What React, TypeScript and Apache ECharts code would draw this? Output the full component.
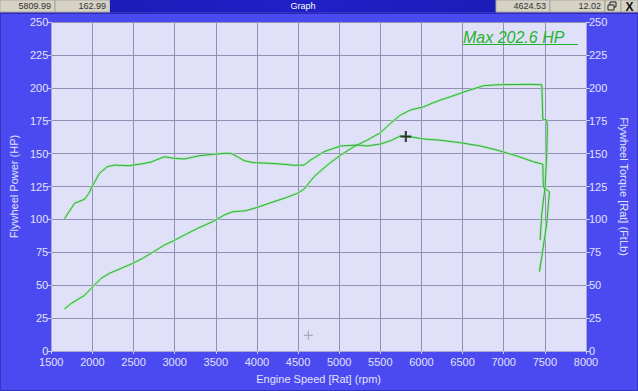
import React, { useEffect, useRef } from "react";
import * as echarts from "echarts";

// Engine speed (rpm) / Flywheel power (HP)
const powerRpm = [1661, 1743, 1904, 2006, 2106, 2207, 2349, 2491, 2612, 2733, 2874, 2995, 3117, 3279, 3480, 3602, 3704, 3865, 4007, 4168, 4329, 4492, 4572, 4693, 4856, 5017, 5178, 5341, 5502, 5623, 5744, 5866, 6027, 6148, 6230, 6351, 6553, 6755, 6957, 7160, 7321, 7463, 7475, 7523, 7531, 7523, 7503, 7463, 7442];
const powerHp = [31.9, 36.2, 42.3, 48.9, 55.2, 59.0, 62.8, 66.6, 70.4, 75.0, 80.5, 84.0, 88.1, 93.2, 98.8, 103.3, 105.8, 106.6, 109.2, 112.7, 116.0, 119.8, 122.9, 132.4, 141.3, 148.9, 155.2, 160.3, 165.9, 173.0, 179.3, 183.1, 185.6, 188.7, 190.7, 193.2, 197.6, 201.6, 202.4, 202.5, 202.6, 202.3, 176.1, 175.5, 170.4, 150.2, 124.9, 104.6, 84.3];

// Engine speed (rpm) / Flywheel torque (FtLb)
const torqueRpm = [1661, 1783, 1904, 1957, 2006, 2086, 2179, 2268, 2442, 2591, 2713, 2874, 2995, 3117, 3298, 3480, 3602, 3683, 3764, 3844, 3965, 4168, 4329, 4450, 4572, 4653, 4814, 5017, 5219, 5341, 5502, 5623, 5744, 5805, 5906, 6027, 6209, 6472, 6715, 6917, 7160, 7361, 7463, 7475, 7482, 7555, 7523, 7463, 7434];
const torqueFtLb = [100.5, 112.2, 115.3, 119.8, 126.1, 135.0, 140.0, 141.3, 140.8, 142.1, 143.6, 147.6, 146.4, 145.9, 148.4, 149.5, 150.2, 150.2, 147.6, 144.6, 143.1, 142.6, 141.9, 141.1, 141.3, 145.1, 151.4, 155.8, 156.5, 155.8, 157.3, 159.8, 163.4, 163.0, 162.4, 161.1, 160.3, 158.3, 155.8, 152.7, 148.2, 143.8, 142.1, 141.9, 124.4, 121.0, 97.0, 71.7, 60.3];

// Cursors (rpm, value)
const cursorA = [5809.99, 162.99];
const cursorB = [4624.53, 12.02];

const xTicks = { min: 1500, max: 8000, interval: 500 };
const yTicks = { min: 0, max: 250, interval: 25 };

const FONT = '"Liberation Sans", Arial, sans-serif';
const BLUE = "#4a4af0";
const LABEL = "#e2e2ff";

export default function App() {
  const ref = useRef<HTMLDivElement>(null);
  useEffect(() => {
    if (!ref.current) return;
    const chart = echarts.init(ref.current, null, { renderer: "svg" });
    const powerData = powerRpm.map((r, i) => [r, powerHp[i]]);
    const torqueData = torqueRpm.map((r, i) => [r, torqueFtLb[i]]);
    const maxHp = Math.max(...powerHp);

    const yAxisCommon = {
      type: "value",
      min: yTicks.min,
      max: yTicks.max,
      interval: yTicks.interval,
      nameLocation: "middle",
      nameTextStyle: { color: LABEL, fontSize: 11, fontFamily: FONT },
      axisLine: { show: true, lineStyle: { color: "#a8a8d0" } },
      axisTick: { show: true, length: 4, lineStyle: { color: "#c8c8f0" } },
      axisLabel: { color: LABEL, fontSize: 11, fontFamily: FONT, margin: 3, verticalAlign: "middle" },
      splitLine: { show: true, lineStyle: { color: "#9090b4", width: 1 } },
    };

    const lineSeries = (name: string, data: number[][], yIdx: number, halo: boolean) => ({
      name,
      type: "line",
      yAxisIndex: yIdx,
      data,
      showSymbol: false,
      symbol: "none",
      silent: true,
      z: halo ? 2 : 3,
      lineStyle: halo
        ? { color: "#a4eca4", width: 2.6, opacity: 0.9 }
        : { color: "#36a848", width: 1 },
    });

    const panel = (x: number, w: number, text: string) => [
      { type: "rect", shape: { x, y: 0, width: w, height: 12 }, style: { fill: "#d6d2c6", stroke: "#a8a498", lineWidth: 1 }, z: 10 },
      { type: "text", x: x + w - 4, y: 6, style: { text, fill: "#333", font: `9px ${FONT}`, align: "right", verticalAlign: "middle" }, z: 11 },
    ];

    chart.setOption({
      animation: false,
      backgroundColor: BLUE,
      grid: { left: 50, right: 52, top: 22, bottom: 40, show: true, backgroundColor: "#e0e0f8", borderWidth: 0 },
      xAxis: {
        type: "value",
        min: xTicks.min,
        max: xTicks.max,
        interval: xTicks.interval,
        name: "Engine Speed [Rat] (rpm)",
        nameLocation: "middle",
        nameGap: 22,
        nameTextStyle: { color: LABEL, fontSize: 11, fontFamily: FONT },
        axisLine: { show: true, lineStyle: { color: "#a8a8d0" } },
        axisTick: { show: true, length: 3, lineStyle: { color: "#c8c8f0" } },
        axisLabel: { color: LABEL, fontSize: 11, fontFamily: FONT, margin: 5, formatter: (v: number) => String(v) },
        splitLine: { show: true, lineStyle: { color: "#9090b4", width: 1 } },
      },
      yAxis: [
        { ...yAxisCommon, position: "left", name: "Flywheel Power (HP)", nameRotate: 90, nameGap: 26 },
        { ...yAxisCommon, position: "right", name: "Flywheel Torque [Rat] (FtLb)", nameRotate: -90, nameGap: 30, splitLine: { show: false } },
      ],
      series: [
        lineSeries("powerHalo", powerData, 0, true),
        lineSeries("torqueHalo", torqueData, 1, true),
        lineSeries("Power", powerData, 0, false),
        lineSeries("Torque", torqueData, 1, false),
        {
          type: "scatter",
          silent: true,
          z: 5,
          data: [cursorA],
          symbol: "path://M4,0H6V4H10V6H6V10H4V6H0V4H4Z",
          symbolSize: 11,
          itemStyle: { color: "#151515" },
        },
        {
          type: "scatter",
          silent: true,
          z: 5,
          data: [cursorB],
          symbol: "path://M4.5,0H5.5V4.5H10V5.5H5.5V10H4.5V5.5H0V4.5H4.5Z",
          symbolSize: 9,
          itemStyle: { color: "#8a8a9a" },
        },
      ],
      graphic: [
        ...panel(0, 55, cursorA[0].toFixed(2)),
        ...panel(55, 55, cursorA[1].toFixed(2)),
        {
          type: "rect",
          shape: { x: 110, y: 0, width: 386, height: 12 },
          style: {
            fill: new echarts.graphic.LinearGradient(0, 0, 1, 0, [
              { offset: 0, color: "#1c1cb8" },
              { offset: 0.5, color: "#2020c8" },
              { offset: 1, color: "#1c1cb8" },
            ]),
          },
          z: 10,
        },
        { type: "text", x: 303, y: 6, style: { text: "Graph", fill: "#ffffff", font: `9px ${FONT}`, align: "center", verticalAlign: "middle" }, z: 11 },
        ...panel(496, 54, cursorB[0].toFixed(2)),
        ...panel(550, 55, cursorB[1].toFixed(2)),
        { type: "rect", shape: { x: 605, y: 0, width: 16, height: 12 }, style: { fill: "#d6d2c6", stroke: "#a8a498" }, z: 10 },
        { type: "rect", shape: { x: 610, y: 2, width: 6, height: 5 }, style: { fill: "none", stroke: "#222", lineWidth: 1 }, z: 11 },
        { type: "rect", shape: { x: 608, y: 5, width: 6, height: 5 }, style: { fill: "#d6d2c6", stroke: "#222", lineWidth: 1 }, z: 12 },
        { type: "rect", shape: { x: 621, y: 0, width: 17, height: 12 }, style: { fill: "#d6d2c6", stroke: "#a8a498" }, z: 10 },
        { type: "text", x: 629.5, y: 6.5, style: { text: "X", fill: "#111", font: `bold 12px ${FONT}`, align: "center", verticalAlign: "middle" }, z: 11 },
        { type: "rect", shape: { x: 0, y: 12, width: 638, height: 2 }, style: { fill: "#2a2ab8" }, z: 9 },
        { type: "rect", shape: { x: 0.5, y: 12.5, width: 637, height: 378 }, style: { fill: "none", stroke: "#3434c0", lineWidth: 1 }, z: 9 },
        { type: "text", x: 463, y: 29, style: { text: `Max ${maxHp.toFixed(1)} HP`, fill: "#1fb52a", font: `italic 16px ${FONT}` }, z: 8 },
        { type: "line", shape: { x1: 463, y1: 44.5, x2: 578, y2: 44.5 }, style: { stroke: "#1fb52a", lineWidth: 1 }, z: 8 },
      ],
    });
    return () => chart.dispose();
  }, []);
  return <div ref={ref} style={{ position: "absolute", left: 0, top: 0, width: 638, height: 391 }} />;
}
